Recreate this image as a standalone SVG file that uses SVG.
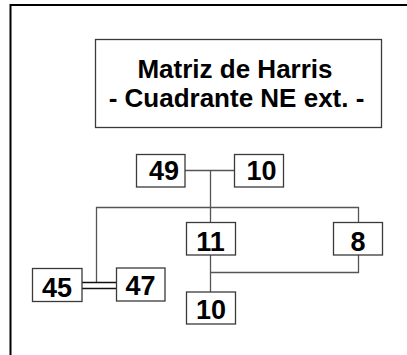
<svg xmlns="http://www.w3.org/2000/svg" width="407" height="355" viewBox="0 0 407 355">
<style>
.box{fill:#fff;stroke:#3a3a3a;stroke-width:1.3}
.num{font-family:"Liberation Sans",Arial,sans-serif;font-weight:bold;font-size:27px;fill:#000;text-anchor:middle}
.title{font-family:"Liberation Sans",Arial,sans-serif;font-weight:bold;font-size:26px;fill:#000;text-anchor:middle}
.con{fill:none;stroke:#555;stroke-width:1.3}
</style>
<rect x="10.5" y="5" width="500" height="500" fill="#fff" stroke="#000" stroke-width="2"/>
<g id="title">
<rect class="box" x="95.5" y="39.5" width="286" height="88" stroke="#555"/>
<text class="title" x="235" y="77.5">Matriz de Harris</text>
<text class="title" x="236.5" y="107">- Cuadrante NE ext. -</text>
</g>
<g id="connectors">
<line class="con" x1="185" y1="170.5" x2="234" y2="170.5" stroke="#222"/>
<line class="con" x1="210.5" y1="170.5" x2="210.5" y2="222"/>
<polyline class="con" points="96.5,282 96.5,207.5 358.5,207.5 358.5,222"/>
<line class="con" x1="210.5" y1="255" x2="210.5" y2="292"/>
<polyline class="con" points="210.5,272.5 358.5,272.5 358.5,255"/>
<line x1="82" y1="282.5" x2="116" y2="282.5" stroke="#111" stroke-width="1.3"/>
<line x1="82" y1="288.5" x2="116" y2="288.5" stroke="#111" stroke-width="1.3"/>
</g>
<g id="n49"><rect class="box" x="136.5" y="154.5" width="48.5" height="32.5"/><text class="num" x="164" y="180">49</text></g>
<g id="n10a"><rect class="box" x="234.5" y="154.5" width="49" height="32.5"/><text class="num" x="261.5" y="180">10</text></g>
<g id="n11"><rect class="box" x="186.5" y="222.5" width="49" height="32.5"/><text class="num" x="210.5" y="250.5">11</text></g>
<g id="n8"><rect class="box" x="333.5" y="222.5" width="49" height="32.5"/><text class="num" x="358" y="250.5">8</text></g>
<g id="n45"><rect class="box" x="32.5" y="268.5" width="49.5" height="33"/><text class="num" x="57" y="296.5">45</text></g>
<g id="n47"><rect class="box" x="116.5" y="268" width="48.5" height="33"/><text class="num" x="140.5" y="295">47</text></g>
<g id="n10b"><rect class="box" x="186.5" y="292" width="49" height="32"/><text class="num" x="211" y="319">10</text></g>
</svg>
